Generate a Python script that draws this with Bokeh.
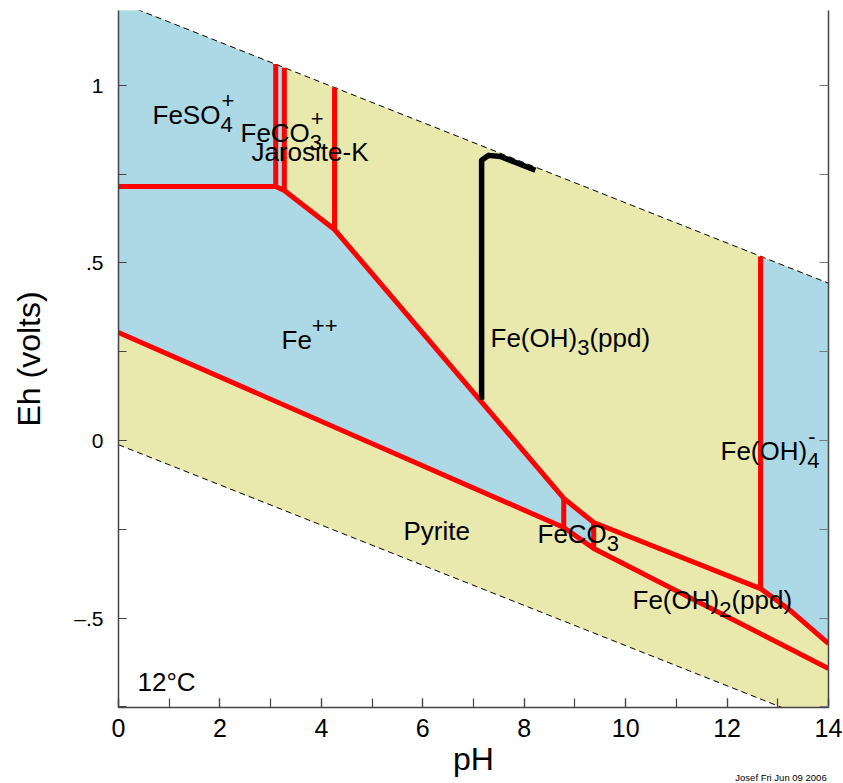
from bokeh.plotting import figure
from bokeh.models import Range1d, LinearAxis, FixedTicker, ColumnDataSource
from bokeh.core.properties import value
from bokeh.embed import file_html
from bokeh.resources import INLINE

# ---------------- data ----------------
water_ph = [0.0, 14.0]
water_upper_eh = [1.235, 0.443]
water_lower_eh = [-0.012, -0.804]

# upper boundary chain: FeSO4+/Fe++ ... Fe(OH)2/Fe(OH)4-
chain_ph = [0.0, 3.10, 3.27, 4.26, 8.78, 9.37, 12.66, 13.25, 14.0]
chain_eh = [0.7155, 0.7155, 0.704, 0.594, -0.163, -0.231, -0.417, -0.479, -0.572]

# pyrite boundary chain
pyrite_ph = [0.0, 8.78, 9.37, 14.0]
pyrite_eh = [0.304, -0.245, -0.304, -0.642]

# vertical boundaries
vert_ph = [3.10, 3.27, 4.26, 8.78, 9.37, 12.66]
vert_eh_low = [0.7155, 0.704, 0.594, -0.245, -0.304, -0.417]
vert_eh_high = [1.060, 1.050, 0.994, -0.163, -0.231, 0.518]

# reaction path (black)
path_ph = [7.16, 7.16, 7.30, 7.53, 7.83, 8.22]
path_eh = [0.115, 0.789, 0.803, 0.800, 0.783, 0.761]

x_major = [0, 2, 4, 6, 8, 10, 12, 14]
x_minor = list(range(0, 15))
y_major = [-0.5, 0.0, 0.5, 1.0]
y_minor = [-0.75, -0.5, -0.25, 0.0, 0.25, 0.5, 0.75, 1.0]
y_labels = {-0.5: "\u2013.5", 0.0: "0", 0.5: ".5", 1.0: "1"}
credit_text = "Josef Fri Jun 09 2006"

# ---------------- figure ----------------
FONT = "Liberation Sans"
BLUE = "#ADD8E6"
YELLOW = "#E9E9AE"
AXC = "#444444"

FW, FH = 710, 697
X0, X1 = 0.0, 14.0
Y0, Y1 = -0.752, 1.211
LEFT, TOP = 118, 10

p = figure(frame_width=FW, frame_height=FH,
           x_range=Range1d(X0, X1), y_range=Range1d(Y0, Y1),
           x_axis_type=None, y_axis_type=None,
           output_backend="svg", toolbar_location=None,
           min_border_left=LEFT, min_border_top=TOP, min_border_bottom=76,
           min_border_right=15)
p.outline_line_color = None
p.background_fill_color = "white"

# water stability band (yellow) and aqueous fields (blue)
band_x = [water_ph[0], water_ph[1], water_ph[1], water_ph[0]]
band_y = [water_upper_eh[0], water_upper_eh[1], water_lower_eh[1], water_lower_eh[0]]
p.patch(band_x, band_y, fill_color=YELLOW, line_color=None)

blue1_x = [water_ph[0], vert_ph[1]] + chain_ph[2:6] + pyrite_ph[2:0:-1] + [pyrite_ph[0]]
blue1_y = [water_upper_eh[0], vert_eh_high[1]] + chain_eh[2:6] + pyrite_eh[2:0:-1] + [pyrite_eh[0]]
p.patch(blue1_x, blue1_y, fill_color=BLUE, line_color=None)

blue2_x = [vert_ph[5], water_ph[1]] + chain_ph[:5:-1]
blue2_y = [vert_eh_high[5], water_upper_eh[1]] + chain_eh[:5:-1]
p.patch(blue2_x, blue2_y, fill_color=BLUE, line_color=None)

# water lines (dashed)
p.line(water_ph, water_upper_eh, line_color="black", line_width=1, line_dash="6 4")
p.line(water_ph, water_lower_eh, line_color="black", line_width=1, line_dash="6 4")

# red boundaries
RED = "#FF0000"
p.line(chain_ph, chain_eh, line_color=RED, line_width=5)
p.line(pyrite_ph, pyrite_eh, line_color=RED, line_width=5)
p.multi_line([[v, v] for v in vert_ph],
             [[a, b] for a, b in zip(vert_eh_low, vert_eh_high)],
             line_color=RED, line_width=5)

# black path
p.line(path_ph, path_eh, line_color="black", line_width=5.5, line_join="round")

# ---------------- region labels (placed in page pixels) ----------------
M, S = 26, 22
SHIFT = -9
ADV = {"F": .611, "e": .556, "(": .333, "O": .778, "H": .722, ")": .333,
       "S": .667, "C": .722, "o": .556, "p": .556, "d": .556}


def px2x(px):
    return X0 + (px - LEFT) * (X1 - X0) / FW


def py2y(py):
    return Y1 - (py - TOP) * (Y1 - Y0) / FH


def width(s, size):
    return sum(ADV.get(c, .556) for c in s) * size


lab = {"x": [], "y": [], "text": [], "size": []}


def put(px, py, txt, size):
    lab["x"].append(px2x(px))
    lab["y"].append(py2y(py + SHIFT))
    lab["text"].append(txt)
    lab["size"].append("%dpx" % size)


def chem(px, base, parts):
    x = px
    for txt, kind in parts:
        if kind == "n":
            put(x, base, txt, M)
            x += width(txt, M)
        elif kind == "sub":
            put(x, base + 10, txt, S)
            x += width(txt, S)
        elif kind == "sup":
            put(x, base - 14, txt, S)
            x += width(txt, S)
        elif kind == "subsup":
            sub, sup = txt
            put(x, base + 10, sub, S)
            put(x + 1, base - 14, sup, S)
            x += width(sub, S)


chem(152, 123, [("FeSO", "n"), (("4", "+"), "subsup")])
chem(240, 141, [("FeCO", "n"), (("3", "+"), "subsup")])
put(251, 160, "Jarosite-K", M)
chem(281, 348, [("Fe", "n"), ("++", "sup")])
chem(490, 346, [("Fe(OH)", "n"), ("3", "sub"), ("(ppd)", "n")])
chem(720, 459, [("Fe(OH)", "n"), (("4", "-"), "subsup")])
put(403, 539, "Pyrite", M)
chem(537, 542, [("FeCO", "n"), ("3", "sub")])
chem(632, 608, [("Fe(OH)", "n"), ("2", "sub"), ("(ppd)", "n")])
put(137, 690, "12\u00b0C", M)

p.text(x="x", y="y", text="text", text_font_size="size",
       source=ColumnDataSource(lab), text_font=value(FONT),
       text_color="black", text_align="left", text_baseline="alphabetic")

# ---------------- axes ----------------
xa = LinearAxis(ticker=FixedTicker(ticks=x_major, minor_ticks=x_minor),
                major_tick_in=9, major_tick_out=0,
                minor_tick_in=9, minor_tick_out=0,
                major_label_standoff=11,
                major_label_text_font=FONT, major_label_text_font_size="25px",
                major_label_text_color="black",
                axis_line_color=AXC, axis_line_width=1.5,
                major_tick_line_color=AXC, minor_tick_line_color=AXC,
                major_tick_line_width=1.2, minor_tick_line_width=1.2)
p.add_layout(xa, "below")

# second (invisible) bottom axis carrying the credit line and the pH title
credit_x = px2x(780.5)
xb = LinearAxis(ticker=FixedTicker(ticks=[credit_x], minor_ticks=[]),
                major_label_overrides={credit_x: credit_text},
                major_tick_in=0, major_tick_out=0,
                major_label_standoff=32,
                major_label_text_font=FONT, major_label_text_font_size="9.5px",
                major_label_text_color="black",
                axis_label="pH", axis_label_standoff=-45,
                axis_label_text_font=FONT, axis_label_text_font_size="32px",
                axis_label_text_font_style="normal",
                axis_label_text_color="black",
                axis_line_color=None, major_tick_line_color=None,
                minor_tick_line_color=None)
p.add_layout(xb, "below")

ya = LinearAxis(ticker=FixedTicker(ticks=y_major, minor_ticks=y_minor),
                major_label_overrides=y_labels,
                major_tick_in=8, major_tick_out=0,
                minor_tick_in=8, minor_tick_out=0,
                major_label_standoff=15,
                major_label_text_font=FONT, major_label_text_font_size="21px",
                major_label_text_color="black",
                axis_label="Eh (volts)", axis_label_standoff=24,
                axis_label_text_font=FONT, axis_label_text_font_size="32px",
                axis_label_text_font_style="normal",
                axis_label_text_color="black",
                axis_line_color=AXC, axis_line_width=1.5,
                major_tick_line_color=AXC, minor_tick_line_color=AXC,
                major_tick_line_width=1.2, minor_tick_line_width=1.2)
p.add_layout(ya, "left")

ra = LinearAxis(ticker=FixedTicker(ticks=y_minor, minor_ticks=[]),
                major_label_overrides={v: "" for v in y_minor},
                major_tick_in=9, major_tick_out=0,
                major_label_standoff=0,
                major_label_text_font_size="1px",
                axis_line_color=AXC, axis_line_width=1.5,
                major_tick_line_color="#777777", major_tick_line_width=1.2)
p.add_layout(ra, "right")

open("out.html", "w").write(file_html(p, INLINE))
